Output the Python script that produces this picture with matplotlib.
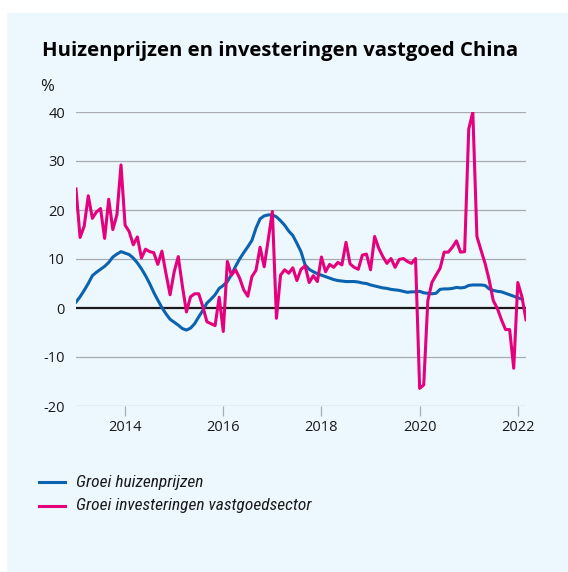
import matplotlib as mpl

mpl.use("Agg")
import matplotlib.pyplot as plt
import numpy as np
from matplotlib.lines import Line2D
from matplotlib.patches import Rectangle

W, H = 568, 572
BG = "#ECF7FE"
BLUE = "#0B63B0"
PINK = "#E5007D"
GRID = "#A8ACB0"
INK = "#1A1A1A"

START_YEAR = 2013
YEAR_TICKS = [2014, 2016, 2018, 2020, 2022]
Y_TICKS = [-20, -10, 0, 10, 20, 30, 40]

# monthly growth rates, starting Jan 2013 (% yoy)
house_prices = [
    1.2, 2.3, 3.6, 5.0, 6.6, 7.3, 7.9, 8.5, 9.3, 10.4, 11.0, 11.5,
    11.2, 10.9, 10.2, 9.2, 8.0, 6.6, 5.0, 3.2, 1.6, 0.1, -1.2, -2.3,
    -2.9, -3.5, -4.2, -4.5, -4.1, -3.2, -1.8, -0.5, 1.0, 1.8, 2.7, 4.0,
    4.6, 5.4, 6.8, 8.5, 10.0, 11.3, 12.5, 13.8, 16.3, 18.2, 18.8, 19.0,
    19.0, 18.6, 17.8, 16.9, 15.7, 14.8, 13.2, 11.5, 8.8, 7.9, 7.4, 7.0,
    6.7, 6.4, 6.1, 5.8, 5.6, 5.5, 5.4, 5.4, 5.4, 5.3, 5.1, 5.0,
    4.7, 4.5, 4.3, 4.1, 4.0, 3.8, 3.7, 3.6, 3.4, 3.2, 3.3, 3.3,
    3.4, 3.1, 3.0, 2.9, 3.0, 3.8, 3.9, 3.9, 4.0, 4.2, 4.1, 4.2,
    4.6, 4.7, 4.7, 4.7, 4.6, 3.9, 3.6, 3.4, 3.3, 3.0, 2.7, 2.4,
    2.1, 1.8,
]
real_estate_inv = [
    24.3, 14.4, 16.7, 22.9, 18.3, 19.6, 20.3, 14.2, 22.2, 16.0, 19.0, 29.2,
    16.9, 15.6, 12.9, 14.5, 10.2, 12.0, 11.5, 11.3, 8.9, 11.6, 7.0, 2.7,
    7.4, 10.5, 4.5, -0.8, 2.3, 2.9, 2.9, 0.3, -2.8, -3.2, -3.6, 2.2,
    -4.8, 9.5, 6.7, 7.8, 6.1, 3.7, 2.4, 6.4, 7.7, 12.4, 8.4, 14.0,
    19.7, -2.1, 6.7, 7.8, 7.1, 8.2, 5.6, 7.9, 8.6, 5.2, 6.6, 5.4,
    10.4, 7.4, 8.9, 8.3, 9.3, 8.8, 13.4, 9.0, 8.3, 7.9, 10.8, 11.0,
    7.8, 14.6, 12.2, 10.5, 9.1, 10.1, 8.3, 9.9, 10.1, 9.5, 9.1, 10.1,
    -16.4, -15.7, 1.5, 5.2, 6.7, 8.1, 11.4, 11.4, 12.4, 13.7, 11.4, 11.5,
    36.5, 40.0, 14.6, 11.8, 9.1, 5.7, 1.5, -0.1, -2.4, -4.4, -4.4, -12.3,
    5.2, 2.3, -2.4,
]
LABELS = ["Groei huizenprijzen", "Groei investeringen vastgoedsector"]

SANS = ["Open Sans", "DejaVu Sans"]
NARROW = ["Roboto Condensed", "Roboto", "DejaVu Sans"]


def fx(px):
    return px / W


def fy(py):
    return 1 - py / H


def main():
    fig = plt.figure(figsize=(W / 100, H / 100), dpi=100, facecolor="white")
    fig.add_artist(Rectangle((fx(7), 0), 1, fy(13), transform=fig.transFigure,
                             facecolor=BG, edgecolor="none", zorder=0))

    ax = fig.add_axes([fx(76), fy(406), fx(526) - fx(76), fy(112) - fy(406)])
    ax.set_facecolor("none")

    t_house = START_YEAR + np.arange(len(house_prices)) / 12
    t_inv = START_YEAR + np.arange(len(real_estate_inv)) / 12

    for y in Y_TICKS:
        if y == 0:
            continue
        ax.axhline(y, color=GRID, lw=0.9, zorder=1)
    ax.axhline(0, color=INK, lw=1.6, zorder=2)

    ax.plot(t_house, house_prices, color=BLUE, lw=2.2, zorder=3, solid_joinstyle="round")
    ax.plot(t_inv, real_estate_inv, color=PINK, lw=2.2, zorder=4, solid_joinstyle="round")

    ax.set_xlim(START_YEAR, START_YEAR + 110 / 12)
    ax.set_ylim(-20, 40)
    ax.set_yticks(Y_TICKS)
    ax.set_yticklabels([str(v) for v in Y_TICKS], family=SANS, fontsize=10.5, color=INK)
    ax.set_xticks(YEAR_TICKS)
    ax.set_xticklabels([str(v) for v in YEAR_TICKS], family=SANS, fontsize=10.5, color=INK)
    ax.tick_params(axis="y", length=0, pad=8)
    ax.tick_params(axis="x", length=7, width=0.9, color=GRID, pad=3, direction="out")
    for s in ax.spines.values():
        s.set_visible(False)

    fig.text(fx(42), fy(56), "Huizenprijzen en investeringen vastgoed China",
             family=SANS, weight="bold", fontsize=14.6, color="black", va="baseline")
    fig.text(fx(40), fy(91), "%", family=SANS, fontsize=12, color=INK, va="baseline")

    for i, (lab, col) in enumerate(zip(LABELS, [BLUE, PINK])):
        yy = 482 + i * 23.5
        fig.add_artist(Line2D([fx(39), fx(65)], [fy(yy), fy(yy)], color=col, lw=2.2,
                              transform=fig.transFigure))
        fig.text(fx(76), fy(yy), lab, family=NARROW, style="italic", fontsize=12.5,
                 color=INK, va="center")

    fig.savefig("out.png", dpi=100, facecolor="white")
    plt.close(fig)


if __name__ == "__main__":
    main()
